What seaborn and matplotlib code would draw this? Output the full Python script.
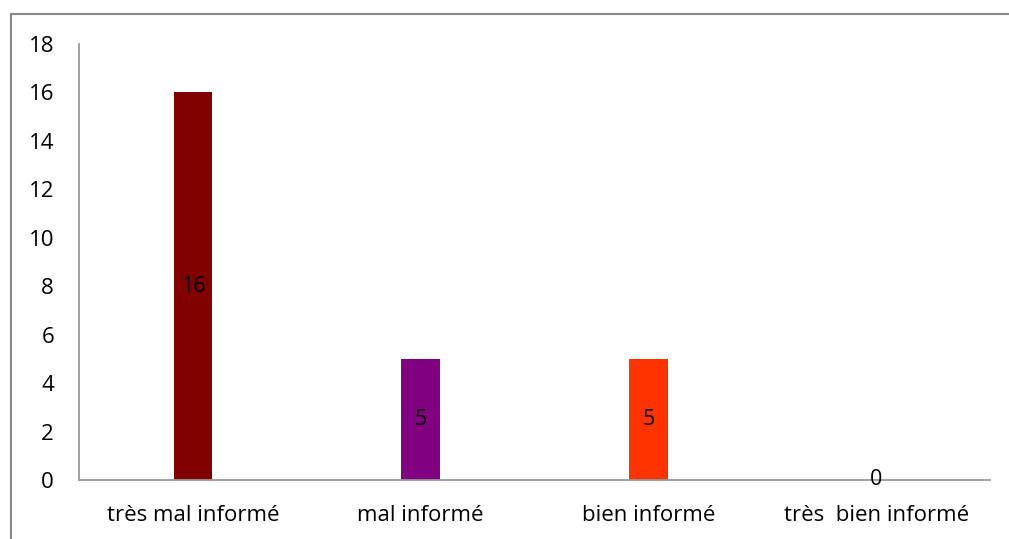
import matplotlib
matplotlib.use("Agg")
import matplotlib.pyplot as plt
import seaborn as sns
import pandas as pd
from matplotlib.lines import Line2D

# data
categories = ["très mal informé", "mal informé", "bien informé", "très  bien informé"]
values = [16, 5, 5, 0]
colors = ["#800000", "#800080", "#FF3300", "#4F81BD"]
y_ticks = list(range(0, 19, 2))

sns.set_theme(style="white")
plt.rcParams["font.family"] = ["Open Sans", "DejaVu Sans"]

df = pd.DataFrame({"cat": categories, "val": values})

fig = plt.figure(figsize=(10.09, 5.39), dpi=100)
ax = fig.add_axes([0.0783, 0.1095, 0.9029, 0.8089])

sns.barplot(data=df, x="cat", y="val", hue="cat", palette=colors,
            width=0.17, legend=False, ax=ax, saturation=1, linewidth=0)

# value labels in the middle of each bar
for i, v in enumerate(values):
    ax.text(i, v / 2, str(v), ha="center", va="center", fontsize=15.5, color="black")

ax.set_ylim(0, 18)
ax.set_yticks(y_ticks)
ax.set_xlim(-0.5, len(categories) - 0.5)
ax.set_xlabel("")
ax.set_ylabel("")
ax.tick_params(axis="both", length=0, labelsize=16, colors="black")
ax.tick_params(axis="y", pad=18)
ax.tick_params(axis="x", pad=18)

for s in ["top", "right"]:
    ax.spines[s].set_visible(False)
for s in ["left", "bottom"]:
    ax.spines[s].set_color("#999999")
    ax.spines[s].set_linewidth(1.3)

# outer frame (left and top edges only are visible)
fl = 11 / 1009
ft = 1 - 14 / 539
fig.add_artist(Line2D([fl, fl], [0, ft], transform=fig.transFigure, color="#888888", lw=1.5))
fig.add_artist(Line2D([fl, 1], [ft, ft], transform=fig.transFigure, color="#888888", lw=1.5))

fig.savefig("out.png", dpi=100)
